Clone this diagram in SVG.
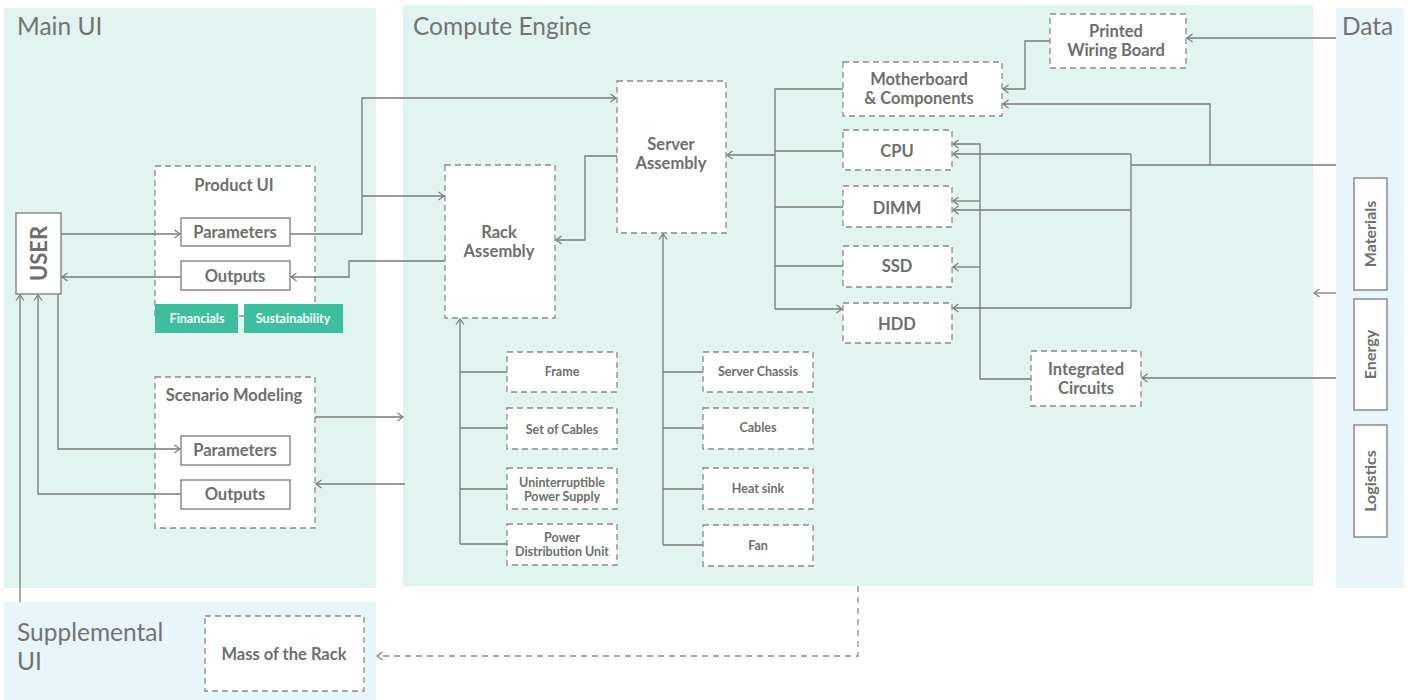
<svg xmlns="http://www.w3.org/2000/svg" width="1416" height="700" viewBox="0 0 1416 700">
<style>
  .panel-g{fill:#e1f4ef}
  .panel-b{fill:#e8f6fb}
  .title{font-family:Lato,"Liberation Sans",sans-serif;font-size:24.5px;fill:#737373;font-weight:400}
  .solid{fill:#fff;stroke:#7a7a7a;stroke-width:1.3}
  .dash{fill:#fff;stroke:#8a8a8a;stroke-width:1.3;stroke-dasharray:6 4}
  .t{font-family:Lato,"Liberation Sans",sans-serif;font-weight:700;fill:#6e6e6e;text-anchor:middle}
  .t15{font-size:16.5px}
  .t14{font-size:16px}
  .t11{font-size:12.5px}
  .tw{font-family:Lato,"Liberation Sans",sans-serif;font-weight:700;fill:#fff;text-anchor:middle;font-size:12.5px}
  .tag{fill:#3dbf9f}
  .c{fill:none;stroke:#7a7a7a;stroke-width:1.3}
  .cd{fill:none;stroke:#8a8a8a;stroke-width:1.3;stroke-dasharray:6 5}
</style>
<defs>
  <marker id="arr" viewBox="0 0 8 10" refX="7" refY="5" markerWidth="8" markerHeight="10" orient="auto" markerUnits="userSpaceOnUse">
    <path d="M1.5,1 L7,5 L1.5,9" fill="none" stroke="#7a7a7a" stroke-width="1.2"/>
  </marker>
</defs>
<rect width="1416" height="700" fill="#fff"/>

<g id="panels">
  <rect class="panel-g" x="4" y="8" width="372" height="580"/>
  <rect class="panel-g" x="403" y="5" width="910" height="581"/>
  <rect class="panel-b" x="1336" y="8" width="68" height="580"/>
  <rect class="panel-b" x="4" y="602" width="372" height="98"/>
  <text class="title" x="17" y="35">Main UI</text>
  <text class="title" x="413" y="35">Compute Engine</text>
  <text class="title" x="1342" y="35">Data</text>
  <text class="title" x="17" y="641">Supplemental</text>
  <text class="title" x="17" y="670">UI</text>
</g>

<g id="product-ui">
  <rect class="dash" x="155" y="166" width="160" height="150"/>
  <text class="t t15" x="234" y="191">Product UI</text>
</g>
<g id="scenario-modeling">
  <rect class="dash" x="155" y="377" width="160" height="151"/>
  <text class="t t15" x="234" y="401">Scenario Modeling</text>
</g>

<g id="connectors">
  <path class="c" d="M61,234 H180" marker-end="url(#arr)"/>
  <path class="c" d="M181,277 H62" marker-end="url(#arr)"/>
  <path class="c" d="M290,234 H362 V98 H616" marker-end="url(#arr)"/>
  <path class="c" d="M362,196 H444" marker-end="url(#arr)"/>
  <path class="c" d="M445,261 H349 V277 H291" marker-end="url(#arr)"/>
  <path class="c" d="M617,156 H585 V240 H556" marker-end="url(#arr)"/>
  <path class="c" d="M460,544 V319" marker-end="url(#arr)"/>
  <path class="c" d="M460,372 H507 M460,428 H507 M460,489 H507 M460,544 H507"/>
  <path class="c" d="M663,545 V234" marker-end="url(#arr)"/>
  <path class="c" d="M663,372 H703 M663,428 H703 M663,489 H703 M663,545 H703"/>
  <path class="c" d="M843,89 H775 V309"/>
  <path class="c" d="M775,155 H727" marker-end="url(#arr)"/>
  <path class="c" d="M775,151 H843 M775,207 H843 M775,266 H843"/>
  <path class="c" d="M775,309 H842" marker-end="url(#arr)"/>
  <path class="c" d="M1050,41 H1025 V89 H1003" marker-end="url(#arr)"/>
  <path class="c" d="M1336,38 H1187" marker-end="url(#arr)"/>
  <path class="c" d="M1336,165 H1210 V104 H1003" marker-end="url(#arr)"/>
  <path class="c" d="M1210,165 H1131"/>
  <path class="c" d="M1131,154 V308"/>
  <path class="c" d="M1131,154 H953" marker-end="url(#arr)"/>
  <path class="c" d="M1131,210 H953" marker-end="url(#arr)"/>
  <path class="c" d="M1131,308 H953" marker-end="url(#arr)"/>
  <path class="c" d="M1031,379 H980 V144 H953" marker-end="url(#arr)"/>
  <path class="c" d="M980,201 H953" marker-end="url(#arr)"/>
  <path class="c" d="M980,267 H953" marker-end="url(#arr)"/>
  <path class="c" d="M1336,378 H1142" marker-end="url(#arr)"/>
  <path class="c" d="M1336,293 H1314" marker-end="url(#arr)"/>
  <path class="c" d="M315,417 H403" marker-end="url(#arr)"/>
  <path class="c" d="M405,484 H316" marker-end="url(#arr)"/>
  <path class="c" d="M20,602 V295" marker-end="url(#arr)"/>
  <path class="c" d="M181,494 H38 V295" marker-end="url(#arr)"/>
  <path class="c" d="M58,294 V449 H180" marker-end="url(#arr)"/>
  <path class="cd" d="M858,586 V656 H377" marker-end="url(#arr)"/>
</g>

<g id="user">
  <rect class="solid" x="16" y="213" width="45" height="81"/>
  <text class="t" font-size="22" transform="translate(46.5,253.5) rotate(-90)">USER</text>
</g>

<g id="product-parameters">
  <rect class="solid" x="181" y="218" width="109" height="28"/>
  <text class="t t15" x="235" y="238">Parameters</text>
</g>
<g id="product-outputs">
  <rect class="solid" x="181" y="261" width="109" height="29"/>
  <text class="t t15" x="235" y="282">Outputs</text>
</g>
<g id="financials">
  <rect class="tag" x="155" y="304" width="83" height="29"/>
  <text class="tw" x="197" y="323">Financials</text>
</g>
<g id="sustainability">
  <rect class="tag" x="244" y="304" width="99" height="29"/>
  <text class="tw" x="293" y="323">Sustainability</text>
</g>

<g id="scenario-parameters">
  <rect class="solid" x="181" y="436" width="109" height="29"/>
  <text class="t t15" x="235" y="456">Parameters</text>
</g>
<g id="scenario-outputs">
  <rect class="solid" x="181" y="480" width="109" height="29"/>
  <text class="t t15" x="235" y="500">Outputs</text>
</g>

<g id="mass-of-the-rack">
  <rect class="dash" x="205" y="616" width="159" height="75"/>
  <text class="t t15" x="284" y="660">Mass of the Rack</text>
</g>

<g id="rack-assembly">
  <rect class="dash" x="445" y="165" width="110" height="153"/>
  <text class="t t15" x="499" y="238">Rack</text>
  <text class="t t15" x="499" y="257">Assembly</text>
</g>
<g id="server-assembly">
  <rect class="dash" x="617" y="81" width="109" height="152"/>
  <text class="t t15" x="671" y="150">Server</text>
  <text class="t t15" x="671" y="169">Assembly</text>
</g>

<g id="frame"><rect class="dash" x="507" y="352" width="110" height="40"/><text class="t t11" x="562" y="376">Frame</text></g>
<g id="set-of-cables"><rect class="dash" x="507" y="408" width="110" height="41"/><text class="t t11" x="562" y="434">Set of Cables</text></g>
<g id="ups"><rect class="dash" x="507" y="468" width="110" height="41"/><text class="t t11" x="562" y="487">Uninterruptible</text><text class="t t11" x="562" y="501">Power Supply</text></g>
<g id="pdu"><rect class="dash" x="507" y="524" width="110" height="41"/><text class="t t11" x="562" y="542">Power</text><text class="t t11" x="562" y="556">Distribution Unit</text></g>

<g id="server-chassis"><rect class="dash" x="703" y="352" width="110" height="40"/><text class="t t11" x="758" y="376">Server Chassis</text></g>
<g id="cables"><rect class="dash" x="703" y="408" width="110" height="41"/><text class="t t11" x="758" y="432">Cables</text></g>
<g id="heat-sink"><rect class="dash" x="703" y="468" width="110" height="41"/><text class="t t11" x="758" y="493">Heat sink</text></g>
<g id="fan"><rect class="dash" x="703" y="525" width="110" height="41"/><text class="t t11" x="758" y="550">Fan</text></g>

<g id="motherboard">
  <rect class="dash" x="843" y="62" width="159" height="54"/>
  <text class="t t15" x="919" y="85">Motherboard</text>
  <text class="t t15" x="919" y="104">&amp; Components</text>
</g>
<g id="cpu"><rect class="dash" x="843" y="130" width="109" height="40"/><text class="t t15" x="897" y="157">CPU</text></g>
<g id="dimm"><rect class="dash" x="843" y="186" width="109" height="41"/><text class="t t15" x="897" y="214">DIMM</text></g>
<g id="ssd"><rect class="dash" x="843" y="246" width="109" height="41"/><text class="t t15" x="897" y="272">SSD</text></g>
<g id="hdd"><rect class="dash" x="843" y="303" width="109" height="40"/><text class="t t15" x="897" y="330">HDD</text></g>

<g id="printed-wiring-board">
  <rect class="dash" x="1050" y="14" width="136" height="54"/>
  <text class="t t15" x="1116" y="37">Printed</text>
  <text class="t t15" x="1116" y="56">Wiring Board</text>
</g>
<g id="integrated-circuits">
  <rect class="dash" x="1031" y="351" width="110" height="55"/>
  <text class="t t15" x="1086" y="375">Integrated</text>
  <text class="t t15" x="1086" y="394">Circuits</text>
</g>

<g id="materials"><rect class="solid" x="1354" y="178" width="33" height="112"/><text class="t t14" transform="translate(1376,234) rotate(-90)">Materials</text></g>
<g id="energy"><rect class="solid" x="1354" y="299" width="33" height="111"/><text class="t t14" transform="translate(1376,354.5) rotate(-90)">Energy</text></g>
<g id="logistics"><rect class="solid" x="1354" y="425" width="33" height="112"/><text class="t t14" transform="translate(1376,481) rotate(-90)">Logistics</text></g>
</svg>
